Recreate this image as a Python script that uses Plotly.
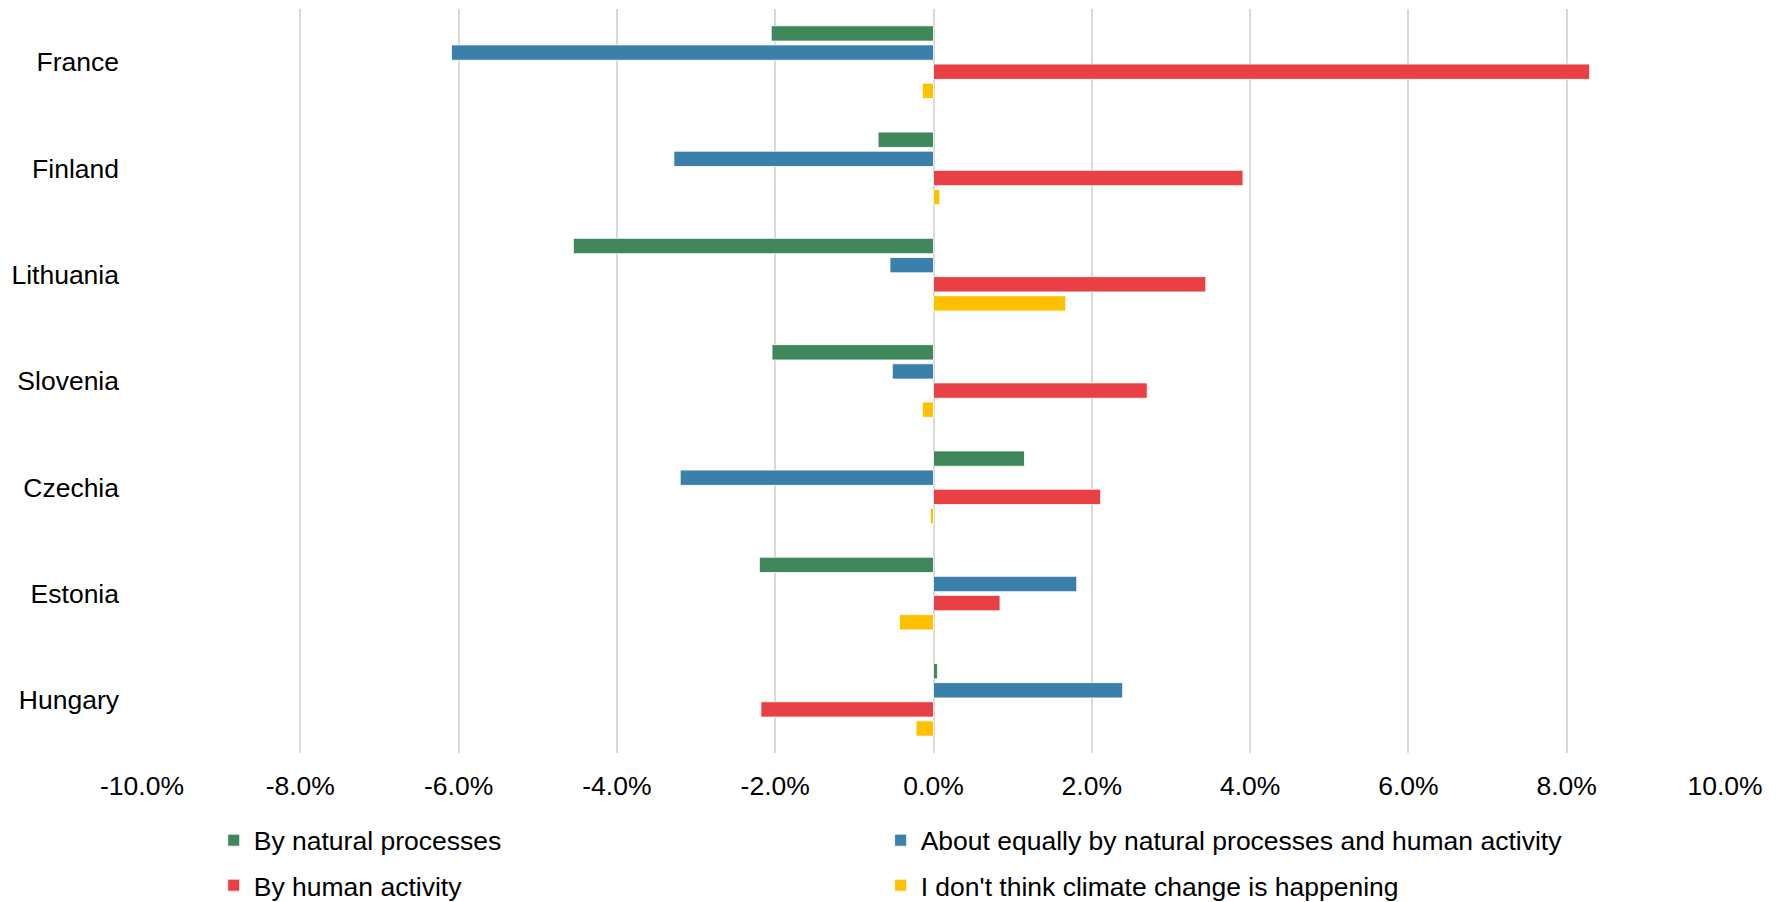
import plotly.graph_objects as go

countries = ["France", "Finland", "Lithuania", "Slovenia", "Czechia", "Estonia", "Hungary"]
natural = [-2.05, -0.70, -4.55, -2.04, 1.15, -2.20, 0.05]
equal = [-6.09, -3.28, -0.55, -0.52, -3.20, 1.81, 2.39]
human = [8.29, 3.91, 3.44, 2.70, 2.11, 0.84, -2.18]
not_happening = [-0.14, 0.08, 1.67, -0.14, -0.04, -0.43, -0.22]

tick_values = [-10, -8, -6, -4, -2, 0, 2, 4, 6, 8, 10]
tick_labels = ["-10.0%", "-8.0%", "-6.0%", "-4.0%", "-2.0%", "0.0%",
               "2.0%", "4.0%", "6.0%", "8.0%", "10.0%"]

series_names = [
    "By natural processes",
    "About equally by natural processes and human activity",
    "By human activity",
    "I don't think climate change is happening",
]
series_values = [natural, equal, human, not_happening]
colors = ["#40875c", "#3a80aa", "#e84044", "#ffc000"]
legend_ids = ["legend", "legend2", "legend3", "legend4"]

fig = go.Figure()
for name, vals, col, lg in zip(series_names, series_values, colors, legend_ids):
    fig.add_trace(go.Bar(
        y=countries,
        x=vals,
        name=name,
        orientation="h",
        legend=lg,
        marker=dict(color=col, line=dict(color="rgba(255,255,255,0.8)", width=1)),
    ))

font_family = "Liberation Sans, Arial, Helvetica, sans-serif"
legend_common = dict(
    orientation="h",
    xanchor="left",
    yanchor="middle",
    font=dict(size=26.5),
    itemwidth=30,
    bgcolor="rgba(0,0,0,0)",
)
col1_x, col2_x = 0.0453, 0.4666
row1_y, row2_y = -0.1175, -0.178

fig.update_layout(
    width=1783,
    height=902,
    margin=dict(l=134, r=66, t=1, b=152),
    paper_bgcolor="white",
    plot_bgcolor="white",
    barmode="group",
    bargap=0.28,
    bargroupgap=0.2,
    font=dict(family=font_family, size=26.5, color="#000000"),
    xaxis=dict(
        range=[-10, 10],
        tickvals=tick_values,
        ticktext=tick_labels,
        showgrid=True,
        gridcolor="#d9d9d9",
        gridwidth=1.5,
        zeroline=True,
        zerolinecolor="#d9d9d9",
        zerolinewidth=1.5,
        showline=False,
        ticks="",
        ticklabelstandoff=14,
        automargin=False,
    ),
    yaxis=dict(
        autorange="reversed",
        showgrid=False,
        showline=False,
        ticks="",
        ticklabelstandoff=22,
        automargin=False,
    ),
    legend=dict(x=col1_x, y=row1_y, **legend_common),
    legend2=dict(x=col2_x, y=row1_y, **legend_common),
    legend3=dict(x=col1_x, y=row2_y, **legend_common),
    legend4=dict(x=col2_x, y=row2_y, **legend_common),
    showlegend=True,
)

fig.write_html("out.html")
